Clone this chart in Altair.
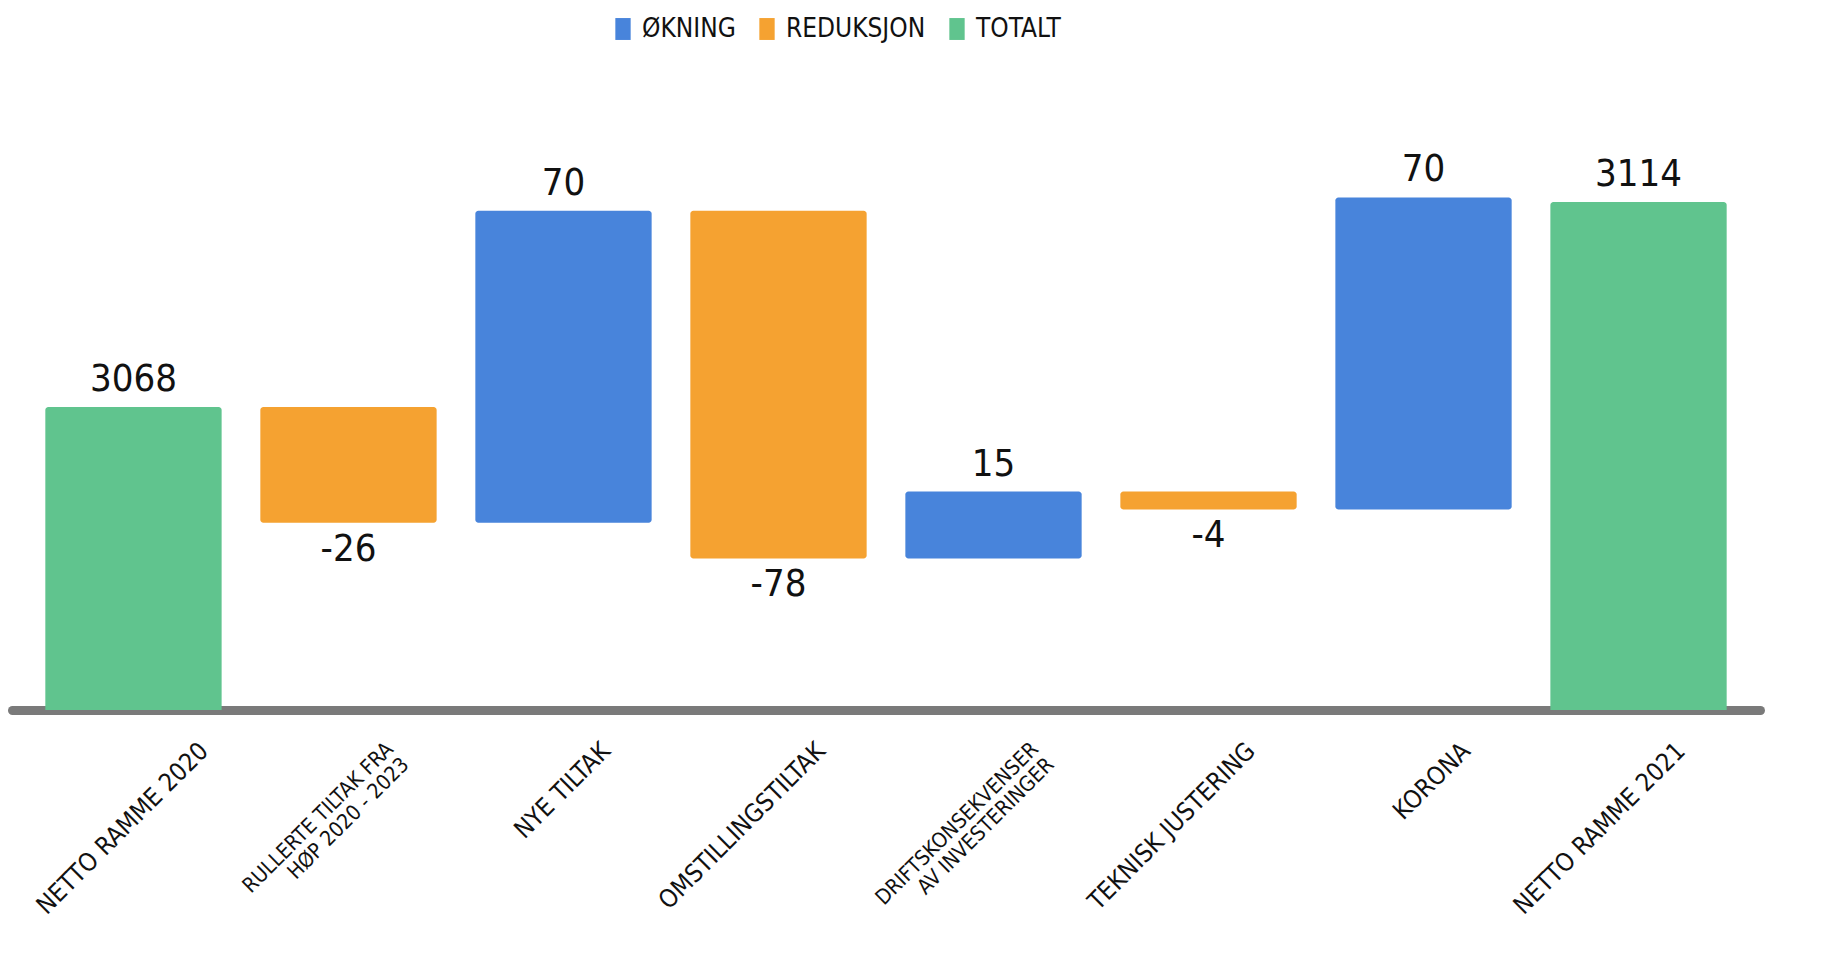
import altair as alt
import pandas as pd

categories = [
    "NETTO RAMME 2020",
    "RULLERTE TILTAK FRA|HØP 2020 - 2023",
    "NYE TILTAK",
    "OMSTILLINGSTILTAK",
    "DRIFTSKONSEKVENSER|AV INVESTERINGER",
    "TEKNISK JUSTERING",
    "KORONA",
    "NETTO RAMME 2021",
]
values = [3068, -26, 70, -78, 15, -4, 70, 3114]
kinds = ["TOTALT", "REDUKSJON", "ØKNING", "REDUKSJON", "ØKNING", "REDUKSJON", "ØKNING", "TOTALT"]

legend_order = ["ØKNING", "REDUKSJON", "TOTALT"]
legend_colors = ["#4884DB", "#F5A231", "#60C48E"]

rows = []
running = 0
for c, v, k in zip(categories, values, kinds):
    if k == "TOTALT":
        start, end = 0, v
        running = v
        lab_y = v
        above = True
    else:
        start, end = running, running + v
        running = end
        lab_y = max(start, end) if v > 0 else min(start, end)
        above = v > 0
    rows.append(dict(cat=c, start=start, end=end, kind=k, label=str(v),
                     lab_y=lab_y, above=above))
df = pd.DataFrame(rows)

FONT = "DejaVu Sans Condensed, Liberation Sans Narrow, DejaVu Sans"

x = alt.X(
    "cat:N", sort=categories, title=None,
    scale=alt.Scale(paddingInner=0.18, paddingOuter=0.155),
    axis=alt.Axis(
        labelExpr="split(datum.label, '|')",
        labelAngle=315,
        labelFont=FONT,
        labelFontSize={"condition": {"test": "indexof(datum.label, '|') >= 0", "value": 21}, "value": 25},
        labelColor="#111111",
        labelPadding=28,
        labelOffset={"condition": {"test": "datum.value == 'NETTO RAMME 2020'", "value": 62}, "value": 34},
        labelLineHeight=22,
        labelLimit=0,
        labelOverlap=False,
        ticks=False,
        domainColor="#7a7a7a",
        domainWidth=9,
        domainCap="round",
        grid=False,
    ),
)
yscale = alt.Scale(domain=[3000, 3140], nice=False, zero=False)

bars = alt.Chart(df).mark_bar(cornerRadius=3, clip=True).encode(
    x=x,
    y=alt.Y("start:Q", scale=yscale, axis=None),
    y2="end:Q",
    color=alt.Color(
        "kind:N",
        scale=alt.Scale(domain=legend_order, range=legend_colors),
        legend=alt.Legend(
            title=None, orient="none", direction="horizontal",
            legendX=598, legendY=-70,
            labelFont=FONT, labelFontSize=26, labelColor="#111111",
            symbolType="M-0.7,-1L0.7,-1L0.7,1L-0.7,1Z", symbolSize=480,
            symbolStrokeWidth=0, labelOffset=6, columnPadding=18,
        ),
    ),
)

lab_up = alt.Chart(df).transform_filter("datum.above").mark_text(
    font=FONT, fontSize=38, color="#111111", baseline="bottom", dy=-8
).encode(x=alt.X("cat:N", sort=categories), y=alt.Y("lab_y:Q", scale=yscale), text="label:N")

lab_down = alt.Chart(df).transform_filter("!datum.above").mark_text(
    font=FONT, fontSize=38, color="#111111", baseline="top", dy=8
).encode(x=alt.X("cat:N", sort=categories), y=alt.Y("lab_y:Q", scale=yscale), text="label:N")

chart = alt.layer(bars, lab_up, lab_down).properties(
    width=1748, height=624,
    autosize=alt.AutoSizeParams(type="none"),
    padding={"left": 4, "top": 78, "right": 66, "bottom": 238},
    background="white",
).configure_view(stroke=None)

chart.save("out.html", embed_options={"renderer": "svg", "actions": False})
